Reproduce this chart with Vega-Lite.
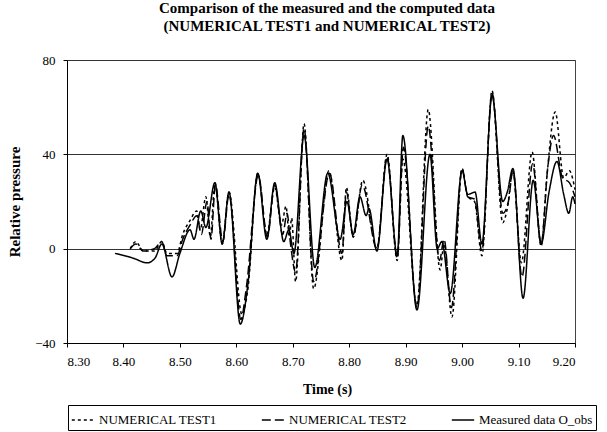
{
  "$schema": "https://vega.github.io/schema/vega-lite/v6.json",
  "autosize": {"type": "none"},
  "width": 508,
  "height": 283,
  "padding": {"left": 67, "top": 60, "right": 32, "bottom": 89},
  "background": "white",
  "config": {
    "font": "serif",
    "view": {"stroke": "#444", "strokeWidth": 1},
    "axis": {"labelFontSize": 13, "titleFontSize": 14, "labelColor": "black", "titleColor": "black", "domainColor": "black", "tickColor": "black"}
  },
  "title": {
    "text": ["Comparison of the measured and the computed data", "(NUMERICAL  TEST1 and NUMERICAL  TEST2)"],
    "font": "serif",
    "fontSize": 15,
    "fontWeight": "bold",
    "lineHeight": 18,
    "offset": 20,
    "dx": 6,
    "color": "black"
  },
  "data": {"values": [
    {"s": "Measured data O_obs", "t": 8.385, "v": -2},
    {"s": "Measured data O_obs", "t": 8.417, "v": -4},
    {"s": "Measured data O_obs", "t": 8.442, "v": -6},
    {"s": "Measured data O_obs", "t": 8.456, "v": -4},
    {"s": "Measured data O_obs", "t": 8.468, "v": 2},
    {"s": "Measured data O_obs", "t": 8.486, "v": -12},
    {"s": "Measured data O_obs", "t": 8.500, "v": -2},
    {"s": "Measured data O_obs", "t": 8.518, "v": 8},
    {"s": "Measured data O_obs", "t": 8.525, "v": 4},
    {"s": "Measured data O_obs", "t": 8.537, "v": 16},
    {"s": "Measured data O_obs", "t": 8.546, "v": 9},
    {"s": "Measured data O_obs", "t": 8.562, "v": 28},
    {"s": "Measured data O_obs", "t": 8.575, "v": 2},
    {"s": "Measured data O_obs", "t": 8.587, "v": 24},
    {"s": "Measured data O_obs", "t": 8.607, "v": -32},
    {"s": "Measured data O_obs", "t": 8.621, "v": -14},
    {"s": "Measured data O_obs", "t": 8.638, "v": 32},
    {"s": "Measured data O_obs", "t": 8.654, "v": 4},
    {"s": "Measured data O_obs", "t": 8.668, "v": 28},
    {"s": "Measured data O_obs", "t": 8.684, "v": 3},
    {"s": "Measured data O_obs", "t": 8.693, "v": 8},
    {"s": "Measured data O_obs", "t": 8.702, "v": -2},
    {"s": "Measured data O_obs", "t": 8.720, "v": 48},
    {"s": "Measured data O_obs", "t": 8.739, "v": -8},
    {"s": "Measured data O_obs", "t": 8.762, "v": 32},
    {"s": "Measured data O_obs", "t": 8.784, "v": 4},
    {"s": "Measured data O_obs", "t": 8.796, "v": 20},
    {"s": "Measured data O_obs", "t": 8.807, "v": 6},
    {"s": "Measured data O_obs", "t": 8.819, "v": 22},
    {"s": "Measured data O_obs", "t": 8.830, "v": 14},
    {"s": "Measured data O_obs", "t": 8.835, "v": 17},
    {"s": "Measured data O_obs", "t": 8.849, "v": -1},
    {"s": "Measured data O_obs", "t": 8.867, "v": 38},
    {"s": "Measured data O_obs", "t": 8.885, "v": -3},
    {"s": "Measured data O_obs", "t": 8.895, "v": 48},
    {"s": "Measured data O_obs", "t": 8.920, "v": -26},
    {"s": "Measured data O_obs", "t": 8.943, "v": 40},
    {"s": "Measured data O_obs", "t": 8.956, "v": 0},
    {"s": "Measured data O_obs", "t": 8.964, "v": 3},
    {"s": "Measured data O_obs", "t": 8.979, "v": -19},
    {"s": "Measured data O_obs", "t": 9.000, "v": 33},
    {"s": "Measured data O_obs", "t": 9.010, "v": 23},
    {"s": "Measured data O_obs", "t": 9.023, "v": 24},
    {"s": "Measured data O_obs", "t": 9.035, "v": 2},
    {"s": "Measured data O_obs", "t": 9.053, "v": 65},
    {"s": "Measured data O_obs", "t": 9.072, "v": 20},
    {"s": "Measured data O_obs", "t": 9.080, "v": 24},
    {"s": "Measured data O_obs", "t": 9.090, "v": 34},
    {"s": "Measured data O_obs", "t": 9.108, "v": -21},
    {"s": "Measured data O_obs", "t": 9.126, "v": 29},
    {"s": "Measured data O_obs", "t": 9.140, "v": 2},
    {"s": "Measured data O_obs", "t": 9.154, "v": 24},
    {"s": "Measured data O_obs", "t": 9.168, "v": 37},
    {"s": "Measured data O_obs", "t": 9.180, "v": 23},
    {"s": "Measured data O_obs", "t": 9.189, "v": 15},
    {"s": "Measured data O_obs", "t": 9.196, "v": 22},
    {"s": "Measured data O_obs", "t": 9.200, "v": 19},

    {"s": "NUMERICAL TEST1", "t": 8.412, "v": 0},
    {"s": "NUMERICAL TEST1", "t": 8.422, "v": 3},
    {"s": "NUMERICAL TEST1", "t": 8.435, "v": -1},
    {"s": "NUMERICAL TEST1", "t": 8.455, "v": -1},
    {"s": "NUMERICAL TEST1", "t": 8.468, "v": 3},
    {"s": "NUMERICAL TEST1", "t": 8.477, "v": -2},
    {"s": "NUMERICAL TEST1", "t": 8.495, "v": -2},
    {"s": "NUMERICAL TEST1", "t": 8.505, "v": 6},
    {"s": "NUMERICAL TEST1", "t": 8.518, "v": 12},
    {"s": "NUMERICAL TEST1", "t": 8.530, "v": 16},
    {"s": "NUMERICAL TEST1", "t": 8.536, "v": 8},
    {"s": "NUMERICAL TEST1", "t": 8.546, "v": 22},
    {"s": "NUMERICAL TEST1", "t": 8.554, "v": 5},
    {"s": "NUMERICAL TEST1", "t": 8.562, "v": 28},
    {"s": "NUMERICAL TEST1", "t": 8.575, "v": 2},
    {"s": "NUMERICAL TEST1", "t": 8.587, "v": 24},
    {"s": "NUMERICAL TEST1", "t": 8.610, "v": -28},
    {"s": "NUMERICAL TEST1", "t": 8.620, "v": -18},
    {"s": "NUMERICAL TEST1", "t": 8.638, "v": 32},
    {"s": "NUMERICAL TEST1", "t": 8.654, "v": 6},
    {"s": "NUMERICAL TEST1", "t": 8.668, "v": 26},
    {"s": "NUMERICAL TEST1", "t": 8.680, "v": 10},
    {"s": "NUMERICAL TEST1", "t": 8.688, "v": 18},
    {"s": "NUMERICAL TEST1", "t": 8.694, "v": 5},
    {"s": "NUMERICAL TEST1", "t": 8.698, "v": 13},
    {"s": "NUMERICAL TEST1", "t": 8.705, "v": -14},
    {"s": "NUMERICAL TEST1", "t": 8.720, "v": 53},
    {"s": "NUMERICAL TEST1", "t": 8.737, "v": -17},
    {"s": "NUMERICAL TEST1", "t": 8.764, "v": 33},
    {"s": "NUMERICAL TEST1", "t": 8.787, "v": -5},
    {"s": "NUMERICAL TEST1", "t": 8.795, "v": 26},
    {"s": "NUMERICAL TEST1", "t": 8.807, "v": 5},
    {"s": "NUMERICAL TEST1", "t": 8.824, "v": 29},
    {"s": "NUMERICAL TEST1", "t": 8.849, "v": 0},
    {"s": "NUMERICAL TEST1", "t": 8.867, "v": 40},
    {"s": "NUMERICAL TEST1", "t": 8.885, "v": -5},
    {"s": "NUMERICAL TEST1", "t": 8.895, "v": 38},
    {"s": "NUMERICAL TEST1", "t": 8.920, "v": -24},
    {"s": "NUMERICAL TEST1", "t": 8.940, "v": 59},
    {"s": "NUMERICAL TEST1", "t": 8.961, "v": -9},
    {"s": "NUMERICAL TEST1", "t": 8.968, "v": 2},
    {"s": "NUMERICAL TEST1", "t": 8.982, "v": -29},
    {"s": "NUMERICAL TEST1", "t": 9.000, "v": 34},
    {"s": "NUMERICAL TEST1", "t": 9.010, "v": 22},
    {"s": "NUMERICAL TEST1", "t": 9.022, "v": 20},
    {"s": "NUMERICAL TEST1", "t": 9.035, "v": -3},
    {"s": "NUMERICAL TEST1", "t": 9.053, "v": 67},
    {"s": "NUMERICAL TEST1", "t": 9.072, "v": 11},
    {"s": "NUMERICAL TEST1", "t": 9.080, "v": 17},
    {"s": "NUMERICAL TEST1", "t": 9.090, "v": 33},
    {"s": "NUMERICAL TEST1", "t": 9.105, "v": -6},
    {"s": "NUMERICAL TEST1", "t": 9.124, "v": 41},
    {"s": "NUMERICAL TEST1", "t": 9.140, "v": 1},
    {"s": "NUMERICAL TEST1", "t": 9.150, "v": 30},
    {"s": "NUMERICAL TEST1", "t": 9.165, "v": 58},
    {"s": "NUMERICAL TEST1", "t": 9.180, "v": 30},
    {"s": "NUMERICAL TEST1", "t": 9.190, "v": 33},
    {"s": "NUMERICAL TEST1", "t": 9.200, "v": 25},

    {"s": "NUMERICAL TEST2", "t": 8.412, "v": 0},
    {"s": "NUMERICAL TEST2", "t": 8.422, "v": 2},
    {"s": "NUMERICAL TEST2", "t": 8.435, "v": -1},
    {"s": "NUMERICAL TEST2", "t": 8.455, "v": 0},
    {"s": "NUMERICAL TEST2", "t": 8.468, "v": 3},
    {"s": "NUMERICAL TEST2", "t": 8.477, "v": -3},
    {"s": "NUMERICAL TEST2", "t": 8.495, "v": -3},
    {"s": "NUMERICAL TEST2", "t": 8.505, "v": 4},
    {"s": "NUMERICAL TEST2", "t": 8.518, "v": 10},
    {"s": "NUMERICAL TEST2", "t": 8.530, "v": 14},
    {"s": "NUMERICAL TEST2", "t": 8.538, "v": 6},
    {"s": "NUMERICAL TEST2", "t": 8.548, "v": 20},
    {"s": "NUMERICAL TEST2", "t": 8.555, "v": 4},
    {"s": "NUMERICAL TEST2", "t": 8.563, "v": 27},
    {"s": "NUMERICAL TEST2", "t": 8.576, "v": 3},
    {"s": "NUMERICAL TEST2", "t": 8.587, "v": 23},
    {"s": "NUMERICAL TEST2", "t": 8.608, "v": -30},
    {"s": "NUMERICAL TEST2", "t": 8.618, "v": -16},
    {"s": "NUMERICAL TEST2", "t": 8.639, "v": 31},
    {"s": "NUMERICAL TEST2", "t": 8.655, "v": 5},
    {"s": "NUMERICAL TEST2", "t": 8.668, "v": 27},
    {"s": "NUMERICAL TEST2", "t": 8.682, "v": 6},
    {"s": "NUMERICAL TEST2", "t": 8.690, "v": 15},
    {"s": "NUMERICAL TEST2", "t": 8.696, "v": 2},
    {"s": "NUMERICAL TEST2", "t": 8.705, "v": -10},
    {"s": "NUMERICAL TEST2", "t": 8.720, "v": 51},
    {"s": "NUMERICAL TEST2", "t": 8.737, "v": -14},
    {"s": "NUMERICAL TEST2", "t": 8.765, "v": 32},
    {"s": "NUMERICAL TEST2", "t": 8.787, "v": -2},
    {"s": "NUMERICAL TEST2", "t": 8.795, "v": 24},
    {"s": "NUMERICAL TEST2", "t": 8.807, "v": 5},
    {"s": "NUMERICAL TEST2", "t": 8.823, "v": 27},
    {"s": "NUMERICAL TEST2", "t": 8.849, "v": 0},
    {"s": "NUMERICAL TEST2", "t": 8.867, "v": 39},
    {"s": "NUMERICAL TEST2", "t": 8.885, "v": -4},
    {"s": "NUMERICAL TEST2", "t": 8.896, "v": 43},
    {"s": "NUMERICAL TEST2", "t": 8.920, "v": -25},
    {"s": "NUMERICAL TEST2", "t": 8.940, "v": 52},
    {"s": "NUMERICAL TEST2", "t": 8.960, "v": -5},
    {"s": "NUMERICAL TEST2", "t": 8.968, "v": 4},
    {"s": "NUMERICAL TEST2", "t": 8.981, "v": -25},
    {"s": "NUMERICAL TEST2", "t": 9.000, "v": 34},
    {"s": "NUMERICAL TEST2", "t": 9.010, "v": 22},
    {"s": "NUMERICAL TEST2", "t": 9.022, "v": 21},
    {"s": "NUMERICAL TEST2", "t": 9.035, "v": -1},
    {"s": "NUMERICAL TEST2", "t": 9.053, "v": 66},
    {"s": "NUMERICAL TEST2", "t": 9.072, "v": 15},
    {"s": "NUMERICAL TEST2", "t": 9.082, "v": 20},
    {"s": "NUMERICAL TEST2", "t": 9.090, "v": 33},
    {"s": "NUMERICAL TEST2", "t": 9.106, "v": -12},
    {"s": "NUMERICAL TEST2", "t": 9.125, "v": 36},
    {"s": "NUMERICAL TEST2", "t": 9.140, "v": 2},
    {"s": "NUMERICAL TEST2", "t": 9.152, "v": 35},
    {"s": "NUMERICAL TEST2", "t": 9.162, "v": 48},
    {"s": "NUMERICAL TEST2", "t": 9.178, "v": 30},
    {"s": "NUMERICAL TEST2", "t": 9.190, "v": 28},
    {"s": "NUMERICAL TEST2", "t": 9.200, "v": 22}
  ]},
  "mark": {"type": "line", "interpolate": "monotone", "color": "black", "strokeWidth": 1.5},
  "encoding": {
    "x": {
      "field": "t", "type": "quantitative",
      "scale": {"domain": [8.3, 9.2], "nice": false, "zero": false},
      "axis": {"values": [8.3, 8.4, 8.5, 8.6, 8.7, 8.8, 8.9, 9.0, 9.1, 9.2], "format": ".2f", "grid": false, "tickSize": 4, "labelPadding": 8, "labelFont": "serif", "titleFont": "serif", "title": "Time (s)", "titleFontWeight": "bold", "titlePadding": 14, "titleX": 260}
    },
    "y": {
      "field": "v", "type": "quantitative",
      "scale": {"domain": [-40, 80], "nice": false, "zero": false},
      "axis": {"values": [-40, 0, 40, 80], "grid": true, "gridColor": "#333", "gridWidth": 1, "gridOpacity": 1, "tickSize": 4, "labelPadding": 8, "labelFont": "serif", "titleFont": "serif", "title": "Relative pressure", "titleFontWeight": "bold", "titleFontSize": 15, "titlePadding": 12}
    },
    "strokeDash": {
      "field": "s", "type": "nominal",
      "scale": {"domain": ["NUMERICAL TEST1", "NUMERICAL TEST2", "Measured data O_obs"], "range": [[3, 3], [9, 4], [1, 0]]},
      "legend": {
        "title": null,
        "orient": "none",
        "legendX": 1,
        "legendY": 345,
        "direction": "horizontal",
        "strokeColor": "black",
        "padding": 3,
        "symbolType": "stroke",
        "symbolSize": 500,
        "symbolStrokeWidth": 1.5,
        "symbolStrokeColor": "black",
        "labelFont": "serif",
        "labelFontSize": 13,
        "labelColor": "black",
        "labelLimit": 300,
        "columnPadding": 40
      }
    }
  }
}
